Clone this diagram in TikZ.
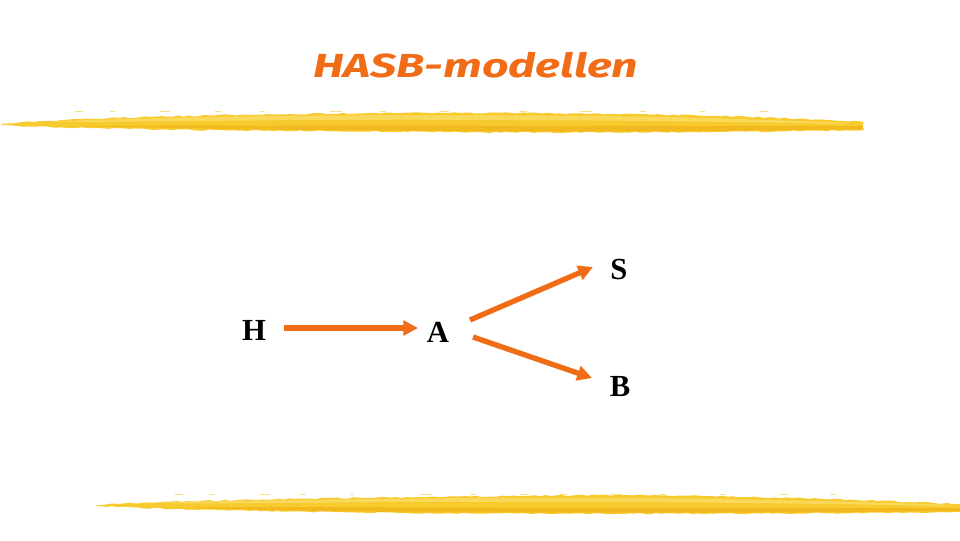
\documentclass[tikz,border=0pt]{standalone}
\usepackage{fontspec}
\setmainfont{Liberation Serif}
\newfontfamily\titlefont{Fira Sans}
\usetikzlibrary{arrows.meta,decorations.pathmorphing}
\definecolor{orng}{RGB}{240,108,22}
\definecolor{ylw}{RGB}{247,202,45}
\definecolor{ylwlt}{RGB}{251,222,110}
\definecolor{ylwdk}{RGB}{240,180,25}
\tikzset{
  letter/.style={inner sep=0pt, font=\fontsize{23}{27}\selectfont\bfseries, text=black},
  arr/.style={draw=orng, line width=4pt, -{Triangle[length=11pt,width=11pt]}},
  brush/.style={fill=ylw, draw=none, decorate, decoration={random steps, segment length=4pt, amplitude=0.5pt}},
  brushlt/.style={fill=ylwlt, draw=none, opacity=0.7},
  brushdk/.style={fill=ylwdk, draw=none, opacity=0.75},
  speck/.style={draw=ylw, line width=1.2pt, opacity=0.6},
}
\begin{document}
\begin{tikzpicture}[x=0.75pt,y=-0.75pt]
\pgfmathsetseed{7}
\fill[white] (0,0) rectangle (960,540);
\useasboundingbox (0,0) rectangle (960,540);

% top brush stroke
\fill[brush] (2,124) .. controls (60,119) and (200,114) .. (400,113)
  .. controls (650,112) and (800,118) .. (863,122) -- (864,130)
  .. controls (750,132) and (600,133) .. (450,132)
  .. controls (300,131) and (100,130) .. (2,125) -- cycle;
\fill[brushlt] (40,122) .. controls (200,115) and (400,114) .. (600,116)
  .. controls (700,117) and (800,121) .. (850,123) -- (840,124)
  .. controls (700,121) and (500,119) .. (300,120) .. controls (200,121) and (100,122) .. (40,122) -- cycle;
\fill[brushdk] (80,126) .. controls (300,125) and (500,126) .. (700,126)
  .. controls (780,126) and (840,126) .. (862,126) -- (862,129)
  .. controls (750,131) and (600,132) .. (450,131) .. controls (300,130) and (200,129) .. (80,126) -- cycle;
\foreach \x/\l in {75/8,110/5,160/10,215/6,260/4,330/12,380/6,440/9,520/7,580/12,640/6,700/5,760/8} {
  \draw[speck] (\x,111.5) -- ++(\l,0);
}

% bottom brush stroke
\fill[brush] (97,505) .. controls (160,500) and (400,497) .. (600,495)
  .. controls (800,496) and (900,502) .. (960,504) -- (960,512)
  .. controls (800,514) and (600,514) .. (400,513)
  .. controls (250,511) and (150,509) .. (97,506) -- cycle;
\fill[brushlt] (140,503) .. controls (300,499) and (500,497) .. (650,498)
  .. controls (800,500) and (900,503) .. (955,505) -- (940,506)
  .. controls (800,503) and (600,501) .. (400,502) .. controls (300,503) and (200,504) .. (140,503) -- cycle;
\fill[brushdk] (180,507) .. controls (400,507) and (600,508) .. (800,508)
  .. controls (880,508) and (930,508) .. (960,508) -- (960,511)
  .. controls (800,513) and (600,513) .. (400,512) .. controls (300,511) and (250,510) .. (180,507) -- cycle;
\foreach \x/\l in {175/8,210/5,260/10,300/6,350/4,420/12,470/6,520/9,560/7,610/12,660/6,720/5,780/8,830/6} {
  \draw[speck] (\x,494.5) -- ++(\l,0);
}

% title
\node[anchor=base west, text=orng, inner sep=0pt] (title) at (313,77)
  {\resizebox{243.75pt}{\height}{\titlefont\bfseries\itshape\fontsize{25}{28}\selectfont HASB-modellen}};

% letters
\node[letter] (H) at (254,330) {H};
\node[letter] (A) at (438,332) {A};
\node[letter] (S) at (619,269) {S};
\node[letter] (B) at (620,386) {B};

% arrows
\draw[arr] ([shift={(30,-2)}]H.center) -- ([shift={(-20,-4)}]A.center);
\draw[arr] ([shift={(32,-12)}]A.center) -- ([shift={(-26,-2)}]S.center);
\draw[arr] ([shift={(35,5)}]A.center) -- ([shift={(-28,-8)}]B.center);
\end{tikzpicture}
\end{document}
